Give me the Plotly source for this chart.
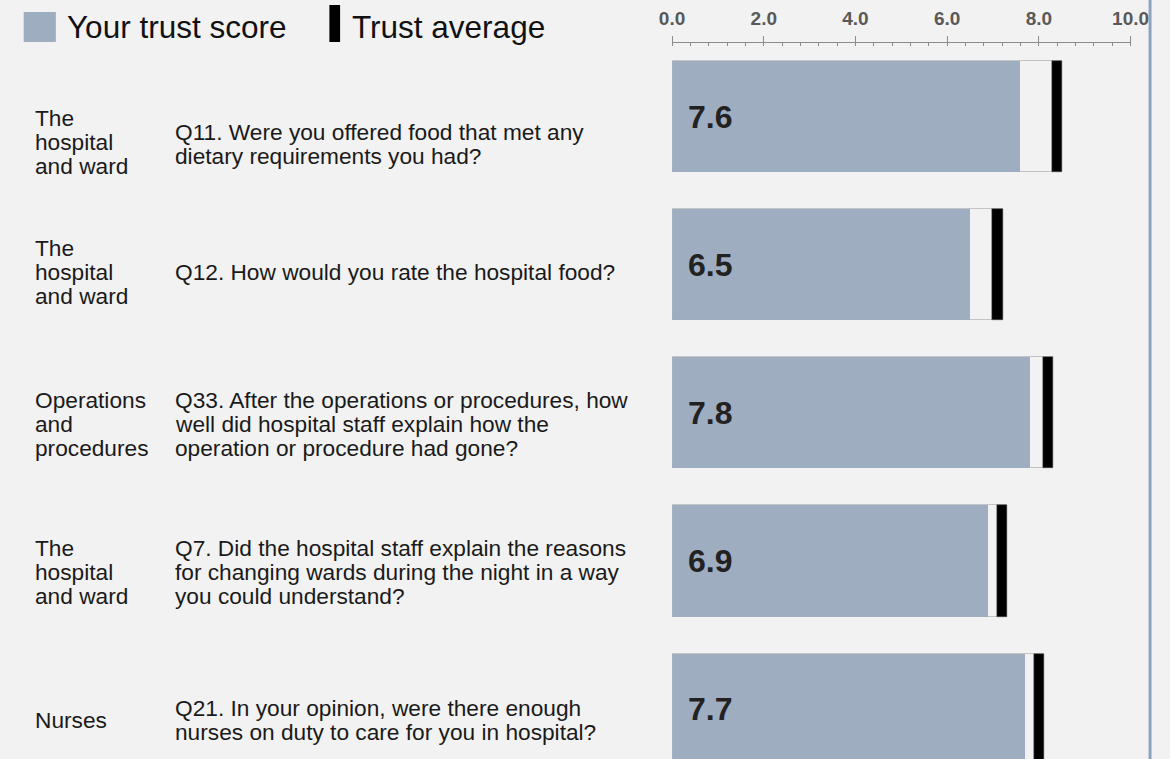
import plotly.graph_objects as go

# ---------------- data ----------------
sections = [
    ["The", "hospital", "and ward"],
    ["The", "hospital", "and ward"],
    ["Operations", "and", "procedures"],
    ["The", "hospital", "and ward"],
    ["Nurses"],
]
questions = [
    ["Q11. Were you offered food that met any", "dietary requirements you had?"],
    ["Q12. How would you rate the hospital food?"],
    ["Q33. After the operations or procedures, how",
     "well did hospital staff explain how the",
     "operation or procedure had gone?"],
    ["Q7. Did the hospital staff explain the reasons",
     "for changing wards during the night in a way",
     "you could understand?"],
    ["Q21. In your opinion, were there enough",
     "nurses on duty to care for you in hospital?"],
]
your_score = [7.6, 6.5, 7.8, 6.9, 7.7]
trust_average = [8.4, 7.1, 8.2, 7.2, 8.0]
tick_values = [0, 2, 4, 6, 8, 10]
legend_labels = ["Your trust score", "Trust average"]

# ---------------- style ----------------
W, H = 1170, 759
TOP = 43
BG = "#f2f2f2"
BAR = "#9eadc0"
TXT = "#1a1a1a"
FONT = "Liberation Sans, Arial, sans-serif"
MARK_W = 0.23
ROW_PX = 148.15
FIRST_PX = 116.5
section_offset_px = [25, 7, 11, 11, 11]
question_offset_px = [27, 7, 11, 11, 11]
LINE_PX = 24
AX_LEFT, AX_RIGHT = 677, 1148

n = len(your_score)
ys = list(range(n))


def xp(px):
    return px / W


def yp(py):
    return (H - py) / (H - TOP)


fig = go.Figure()
fig.add_trace(go.Bar(
    y=ys, x=[a + MARK_W / 2 for a in trust_average], orientation="h", width=0.75,
    marker=dict(color=BG, line=dict(color="#c4c4c4", width=1)),
    hoverinfo="skip", showlegend=False))
fig.add_trace(go.Bar(
    y=ys, x=your_score, orientation="h", width=0.75,
    marker=dict(color=BAR, line=dict(width=0)),
    hoverinfo="skip", showlegend=False, name=legend_labels[0]))
fig.add_trace(go.Bar(
    y=ys, x=[MARK_W] * n, base=[a - MARK_W / 2 for a in trust_average],
    orientation="h", width=0.75,
    marker=dict(color="#000000", line=dict(color="#555555", width=0.5)),
    hoverinfo="skip", showlegend=False, name=legend_labels[1]))

annotations = []
for i in range(n):
    annotations.append(dict(
        x=0, y=i, xref="x", yref="y", text="<b>%.1f</b>" % your_score[i],
        xanchor="left", yanchor="middle", xshift=14, showarrow=False,
        font=dict(family=FONT, size=32, color="#222222")))
    for col_px, lines, off in ((21, sections[i], section_offset_px[i]),
                               (164, questions[i], question_offset_px[i])):
        m = len(lines)
        for j, line in enumerate(lines):
            shift = off + (j - (m - 1) / 2) * LINE_PX
            annotations.append(dict(
                x=xp(col_px), y=i, xref="paper", yref="y", text=line,
                xanchor="left", yanchor="middle", yshift=-shift,
                showarrow=False, font=dict(family=FONT, size=22.7, color=TXT)))

# legend
annotations.append(dict(x=xp(53), y=yp(27), xref="paper", yref="paper",
                        text=legend_labels[0], xanchor="left", yanchor="middle",
                        showarrow=False, font=dict(family=FONT, size=31.5, color="#111111")))
annotations.append(dict(x=xp(346), y=yp(27), xref="paper", yref="paper",
                        text=legend_labels[1], xanchor="left", yanchor="middle",
                        showarrow=False, font=dict(family=FONT, size=31.5, color="#111111")))

shapes = [
    dict(type="rect", xref="paper", yref="paper", x0=xp(11), x1=xp(44),
         y0=yp(42), y1=yp(12), fillcolor=BAR, line=dict(width=0)),
    dict(type="rect", xref="paper", yref="paper", x0=xp(325), x1=xp(336),
         y0=yp(42), y1=yp(5), fillcolor="#000000", line=dict(width=0)),
    dict(type="line", xref="paper", yref="paper", x0=xp(1168), x1=xp(1168),
         y0=0, y1=yp(0), line=dict(color="#8fa2bf", width=3)),
]

y_top = (TOP - FIRST_PX) / ROW_PX
y_bot = (H - FIRST_PX) / ROW_PX

fig.update_layout(
    width=W, height=H, autosize=False,
    margin=dict(l=0, r=0, t=TOP, b=0, pad=0),
    paper_bgcolor=BG, plot_bgcolor=BG,
    barmode="overlay", bargap=0,
    showlegend=False, hovermode=False,
    annotations=annotations, shapes=shapes,
    xaxis=dict(
        domain=[xp(AX_LEFT), xp(AX_RIGHT)], range=[0, 10], side="top",
        showgrid=False, zeroline=False, showline=True, linecolor="#8c8c8c", linewidth=1,
        tickvals=tick_values, ticktext=["%.1f" % v for v in tick_values],
        ticks="outside", ticklen=6, tickcolor="#8c8c8c", tickwidth=1,
        ticklabelstandoff=3,
        minor=dict(dtick=0.4, tick0=0, ticks="inside", ticklen=3, tickcolor="#8c8c8c"),
        tickfont=dict(family=FONT, size=19, color="#595959", weight="bold"),
        fixedrange=True),
    yaxis=dict(range=[y_bot, y_top], visible=False, fixedrange=True),
)

fig.write_html(
    "out.html",
    config={"displayModeBar": False, "responsive": False},
    post_script="document.body.style.margin='0';document.body.style.overflow='hidden';"
                "document.body.style.background='%s';" % BG,
)
